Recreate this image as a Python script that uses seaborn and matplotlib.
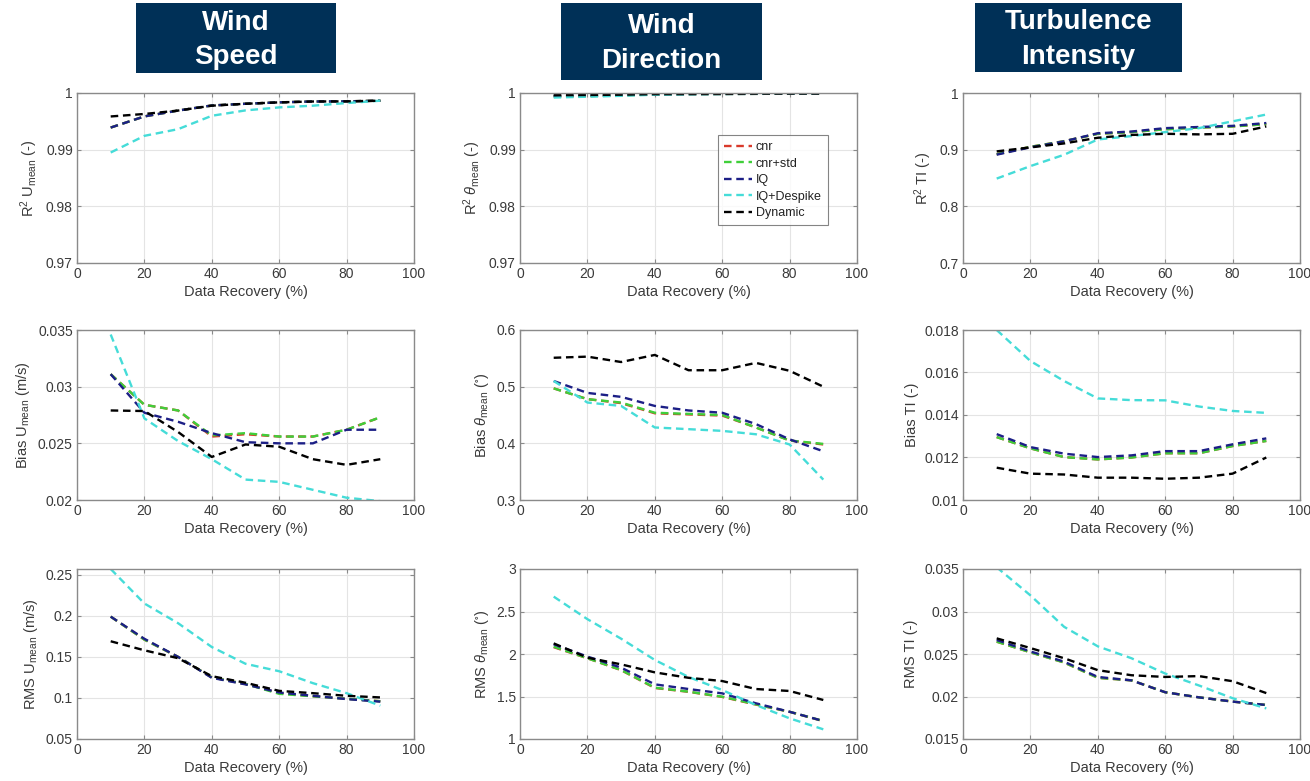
import numpy as np
import pandas as pd
import matplotlib
matplotlib.use("Agg")
import matplotlib.pyplot as plt
from matplotlib.patches import Rectangle
from matplotlib.ticker import FuncFormatter
import seaborn as sns

# ---------------------------------------------------------------- data
recovery = [10, 20, 30, 40, 50, 60, 70, 80, 90]
methods = ["cnr", "cnr+std", "IQ", "IQ+Despike", "Dynamic"]

# R^2 of mean wind speed
r2_u_cnr = [0.9939, 0.99587, 0.9969, 0.9978, 0.9981, 0.99835, 0.9985, 0.99853, 0.99864]
r2_u_cnrstd = [0.9939, 0.99587, 0.9969, 0.9978, 0.9981, 0.99835, 0.9985, 0.99853, 0.99864]
r2_u_iq = [0.9939, 0.99587, 0.9969, 0.9978, 0.9981, 0.99835, 0.9985, 0.99853, 0.99864]
r2_u_iqd = [0.9895, 0.99244, 0.99362, 0.99598, 0.99693, 0.99746, 0.99776, 0.99823, 0.99864]
r2_u_dyn = [0.99586, 0.9963, 0.9969, 0.99776, 0.9981, 0.99835, 0.9985, 0.99853, 0.99864]

# R^2 of mean wind direction
r2_d_cnr = [0.9994, 0.99945, 0.9996, 0.99975, 0.9998, 0.99983, 0.99985, 0.99987, 0.99988]
r2_d_cnrstd = [0.9994, 0.99945, 0.9996, 0.99975, 0.9998, 0.99983, 0.99985, 0.99987, 0.99988]
r2_d_iq = [0.9995, 0.9996, 0.99965, 0.99977, 0.9998, 0.99983, 0.99985, 0.99987, 0.99988]
r2_d_iqd = [0.9992, 0.99935, 0.9995, 0.9997, 0.99978, 0.99982, 0.99985, 0.99987, 0.99988]
r2_d_dyn = [0.9996, 0.99965, 0.9997, 0.9998, 0.99983, 0.99985, 0.99987, 0.99988, 0.99988]

# R^2 of turbulence intensity
r2_t_cnr = [0.892, 0.905, 0.915, 0.928, 0.931, 0.936, 0.939, 0.941, 0.945]
r2_t_cnrstd = [0.892, 0.905, 0.915, 0.928, 0.931, 0.936, 0.939, 0.941, 0.945]
r2_t_iq = [0.8912, 0.9041, 0.9147, 0.929, 0.932, 0.938, 0.940, 0.942, 0.947]
r2_t_iqd = [0.849, 0.871, 0.891, 0.918, 0.924, 0.931, 0.938, 0.950, 0.962]
r2_t_dyn = [0.897, 0.904, 0.911, 0.921, 0.926, 0.928, 0.927, 0.928, 0.941]

# Bias of mean wind speed (m/s)
bias_u_cnr = [0.0311, 0.0284, 0.0279, 0.0256, 0.0258, 0.0256, 0.0256, 0.0262, 0.0273]
bias_u_cnrstd = [0.0311, 0.0284, 0.0279, 0.0257, 0.0259, 0.0256, 0.0256, 0.0262, 0.0273]
bias_u_iq = [0.0311, 0.0277, 0.0269, 0.0259, 0.0251, 0.0250, 0.0250, 0.0262, 0.0262]
bias_u_iqd = [0.0346, 0.0272, 0.0252, 0.0236, 0.0218, 0.0216, 0.0209, 0.0202, 0.0199]
bias_u_dyn = [0.0279, 0.02785, 0.0260, 0.0238, 0.0249, 0.0247, 0.0236, 0.0231, 0.0236]

# Bias of mean wind direction (deg)
bias_d_cnr = [0.497, 0.478, 0.471, 0.453, 0.451, 0.449, 0.428, 0.405, 0.398]
bias_d_cnrstd = [0.497, 0.478, 0.472, 0.454, 0.452, 0.450, 0.428, 0.405, 0.399]
bias_d_iq = [0.510, 0.489, 0.482, 0.466, 0.458, 0.454, 0.434, 0.407, 0.386]
bias_d_iqd = [0.510, 0.472, 0.466, 0.428, 0.425, 0.422, 0.416, 0.398, 0.336]
bias_d_dyn = [0.551, 0.553, 0.5435, 0.556, 0.529, 0.529, 0.542, 0.528, 0.500]

# Bias of turbulence intensity
bias_t_cnr = [0.01296, 0.01243, 0.01202, 0.01191, 0.0120, 0.0122, 0.0122, 0.01254, 0.01278]
bias_t_cnrstd = [0.01296, 0.01243, 0.01202, 0.01191, 0.0120, 0.0122, 0.0122, 0.01254, 0.01278]
bias_t_iq = [0.0131, 0.01249, 0.01218, 0.01202, 0.0121, 0.0123, 0.0123, 0.01262, 0.0129]
bias_t_iqd = [0.0180, 0.01654, 0.0156, 0.01478, 0.0147, 0.01469, 0.0144, 0.01419, 0.0141]
bias_t_dyn = [0.01152, 0.01124, 0.0112, 0.01105, 0.01105, 0.0110, 0.01105, 0.01124, 0.0120]

# RMS of mean wind speed (m/s)
rms_u_cnr = [0.199, 0.171, 0.150, 0.125, 0.117, 0.106, 0.102, 0.099, 0.096]
rms_u_cnrstd = [0.199, 0.171, 0.150, 0.125, 0.117, 0.105, 0.102, 0.099, 0.096]
rms_u_iq = [0.199, 0.172, 0.150, 0.1245, 0.1165, 0.1066, 0.1026, 0.0986, 0.0955]
rms_u_iqd = [0.257, 0.215, 0.191, 0.162, 0.1416, 0.1325, 0.118, 0.1058, 0.0906]
rms_u_dyn = [0.169, 0.158, 0.1484, 0.1265, 0.1185, 0.1086, 0.1058, 0.1026, 0.1006]

# RMS of mean wind direction (deg)
rms_d_cnr = [2.08, 1.95, 1.81, 1.60, 1.555, 1.495, 1.405, 1.32, 1.21]
rms_d_cnrstd = [2.086, 1.95, 1.812, 1.604, 1.557, 1.498, 1.408, 1.32, 1.212]
rms_d_iq = [2.114, 1.97, 1.84, 1.643, 1.588, 1.537, 1.42, 1.32, 1.212]
rms_d_iqd = [2.675, 2.41, 2.18, 1.93, 1.73, 1.576, 1.40, 1.243, 1.114]
rms_d_dyn = [2.125, 1.957, 1.878, 1.784, 1.72, 1.682, 1.588, 1.565, 1.459]

# RMS of turbulence intensity
rms_t_cnr = [0.02645, 0.0252, 0.0240, 0.0222, 0.0219, 0.0205, 0.0199, 0.0194, 0.0190]
rms_t_cnrstd = [0.02645, 0.0252, 0.0240, 0.0222, 0.0219, 0.0205, 0.0199, 0.0194, 0.0190]
rms_t_iq = [0.02665, 0.0253, 0.0241, 0.0223, 0.0219, 0.0205, 0.0199, 0.0194, 0.0190]
rms_t_iqd = [0.0352, 0.0319, 0.0282, 0.0259, 0.0245, 0.0227, 0.0213, 0.0198, 0.0186]
rms_t_dyn = [0.02684, 0.0257, 0.0245, 0.0231, 0.0225, 0.0223, 0.0224, 0.0218, 0.0204]

headers = ["Wind\nSpeed", "Wind\nDirection", "Turbulence\nIntensity"]

panels = [
    # (series per method, y-label, y-limits, y-ticks)
    ([r2_u_cnr, r2_u_cnrstd, r2_u_iq, r2_u_iqd, r2_u_dyn],
     r"R$^2$ U$_{mean}$ (-)", (0.97, 1.0), [0.97, 0.98, 0.99, 1.0]),
    ([r2_d_cnr, r2_d_cnrstd, r2_d_iq, r2_d_iqd, r2_d_dyn],
     r"R$^2$ $\mathit{\theta}_{mean}$ (-)", (0.97, 1.0), [0.97, 0.98, 0.99, 1.0]),
    ([r2_t_cnr, r2_t_cnrstd, r2_t_iq, r2_t_iqd, r2_t_dyn],
     r"R$^2$ TI (-)", (0.7, 1.0), [0.7, 0.8, 0.9, 1.0]),
    ([bias_u_cnr, bias_u_cnrstd, bias_u_iq, bias_u_iqd, bias_u_dyn],
     r"Bias U$_{mean}$ (m/s)", (0.02, 0.035), [0.02, 0.025, 0.03, 0.035]),
    ([bias_d_cnr, bias_d_cnrstd, bias_d_iq, bias_d_iqd, bias_d_dyn],
     r"Bias $\mathit{\theta}_{mean}$ ($^{\circ}$)", (0.3, 0.6), [0.3, 0.4, 0.5, 0.6]),
    ([bias_t_cnr, bias_t_cnrstd, bias_t_iq, bias_t_iqd, bias_t_dyn],
     r"Bias TI (-)", (0.01, 0.018), [0.01, 0.012, 0.014, 0.016, 0.018]),
    ([rms_u_cnr, rms_u_cnrstd, rms_u_iq, rms_u_iqd, rms_u_dyn],
     r"RMS U$_{mean}$ (m/s)", (0.05, 0.257), [0.05, 0.1, 0.15, 0.2, 0.25]),
    ([rms_d_cnr, rms_d_cnrstd, rms_d_iq, rms_d_iqd, rms_d_dyn],
     r"RMS $\mathit{\theta}_{mean}$ ($^{\circ}$)", (1.0, 3.0), [1, 1.5, 2, 2.5, 3]),
    ([rms_t_cnr, rms_t_cnrstd, rms_t_iq, rms_t_iqd, rms_t_dyn],
     r"RMS TI (-)", (0.015, 0.035), [0.015, 0.02, 0.025, 0.03, 0.035]),
]

# ---------------------------------------------------------------- style
sns.set_theme(style="white")
plt.rcParams["font.family"] = ["Liberation Sans", "DejaVu Sans"]
plt.rcParams["mathtext.fontset"] = "custom"
plt.rcParams["mathtext.rm"] = "Liberation Sans"
plt.rcParams["mathtext.it"] = "Liberation Sans:italic"
plt.rcParams["mathtext.default"] = "regular"

palette = {"cnr": "#d93a2b", "cnr+std": "#3fcf3a", "IQ": "#1c1f86",
           "IQ+Despike": "#45dcd8", "Dynamic": "#000000"}
text_col = "#3a3a3a"
frame_col = "#8a8a8a"

W, H = 1310, 781
fig = plt.figure(figsize=(W / 100, H / 100), dpi=100)

col_left = [77, 520, 963]
col_width = 337
row_top = [93, 330, 569]
row_height = 170

fmt = FuncFormatter(lambda v, p: f"{v:g}")

for i, (series, ylabel, ylim, yticks) in enumerate(panels):
    r, c = divmod(i, 3)
    left = col_left[c]
    top = row_top[r]
    ax = fig.add_axes([left / W, 1 - (top + row_height) / H, col_width / W, row_height / H])

    for m, vals in zip(methods, series):
        df = pd.DataFrame({"Data Recovery (%)": recovery, "value": vals})
        sns.lineplot(data=df, x="Data Recovery (%)", y="value", ax=ax,
                     color=palette[m], linewidth=1.7, dashes=False,
                     linestyle=(0, (3.2, 2.0)), label=m, legend=False)

    ax.set_xlim(0, 100)
    ax.set_ylim(*ylim)
    ax.set_xticks([0, 20, 40, 60, 80, 100])
    ax.set_yticks(yticks)
    ax.xaxis.set_major_formatter(fmt)
    ax.yaxis.set_major_formatter(fmt)
    ax.grid(True, color="#e4e4e4", linewidth=0.8)
    ax.set_axisbelow(True)
    for sp in ax.spines.values():
        sp.set_color(frame_col)
        sp.set_linewidth(1.0)
    ax.tick_params(direction="in", length=3, width=0.8, color=frame_col,
                   labelsize=10, labelcolor=text_col, top=True, right=True,
                   pad=3, bottom=True, left=True)
    ax.set_xlabel("Data Recovery (%)", fontsize=10.5, color=text_col, labelpad=3)
    ax.set_ylabel(ylabel, fontsize=10.5, color=text_col, labelpad=4)

    if i == 1:
        leg = ax.legend(loc="upper left", bbox_to_anchor=(0.588, 0.752),
                        fontsize=9, frameon=True, fancybox=False,
                        handlelength=2.2, handletextpad=0.3, borderpad=0.5,
                        labelspacing=0.35, borderaxespad=0)
        leg.get_frame().set_edgecolor("#666666")
        leg.get_frame().set_linewidth(0.8)
        for t in leg.get_texts():
            t.set_color("#222222")

# ---------------------------------------------------------------- headers
header_boxes = [(136, 3, 200, 70), (561, 3, 201, 77), (975, 3, 207, 69)]
for (bx, by, bw, bh), txt in zip(header_boxes, headers):
    fig.patches.append(Rectangle((bx / W, 1 - (by + bh) / H), bw / W, bh / H,
                                 transform=fig.transFigure, facecolor="#003057",
                                 edgecolor="none", zorder=0))
    fig.text((bx + bw / 2) / W, 1 - (by + bh / 2 + 2) / H, txt,
             ha="center", va="center", color="white", fontsize=20,
             fontweight="bold", linespacing=1.45,
             family=["Liberation Sans", "DejaVu Sans"])

fig.savefig("out.png", dpi=100)
